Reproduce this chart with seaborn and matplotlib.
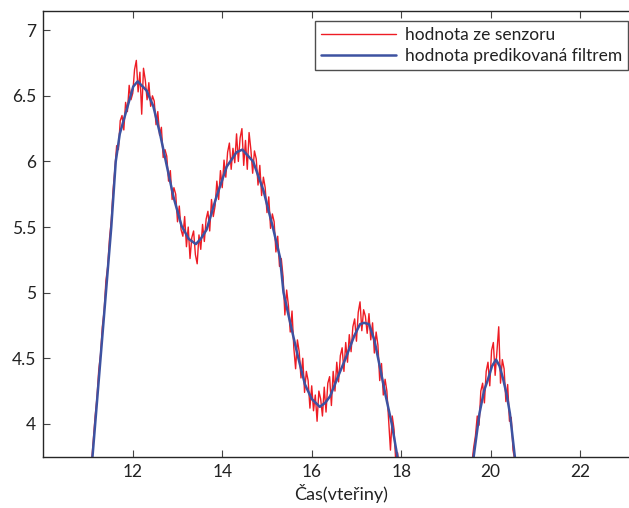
import numpy as np
import pandas as pd
import matplotlib
matplotlib.use("Agg")
import matplotlib.pyplot as plt
import seaborn as sns

# filtered (predicted) value
filter_t = [10.95, 11.10, 11.40, 11.52, 11.62, 11.71, 11.86, 12.01, 12.11, 12.31,
            12.46, 12.61, 12.74, 12.91, 13.09, 13.25, 13.41, 13.52, 13.65, 13.87,
            14.10, 14.32, 14.45, 14.69, 14.92, 15.13, 15.29, 15.37, 15.50, 15.68,
            15.85, 16.00, 16.18, 16.30, 16.41, 16.60, 16.77, 16.95, 17.08, 17.17,
            17.28, 17.40, 17.52, 17.65, 17.79, 17.90, 18.05, 19.50, 19.62, 19.75,
            19.85, 19.94, 20.03, 20.12, 20.20, 20.28, 20.36, 20.43, 20.54, 20.65]
filter_v = [3.15, 3.75, 5.00, 5.50, 6.00, 6.21, 6.39, 6.57, 6.61, 6.54,
            6.42, 6.21, 6.00, 5.73, 5.51, 5.41, 5.37, 5.41, 5.48, 5.73,
            5.96, 6.07, 6.09, 6.00, 5.78, 5.50, 5.27, 5.00, 4.80, 4.53,
            4.30, 4.19, 4.13, 4.16, 4.21, 4.37, 4.51, 4.67, 4.76, 4.77,
            4.76, 4.64, 4.44, 4.22, 4.00, 3.78, 3.45, 3.45, 3.75, 4.08,
            4.25, 4.34, 4.44, 4.49, 4.44, 4.34, 4.22, 4.08, 3.75, 3.45]

# raw sensor samples, two visible stretches, sampled every 0.04 s
sensor_dt = 0.04
sensor1_start = 11.08
sensor1_v = [3.71, 3.88, 4.06, 4.20, 4.41, 4.53, 4.74, 4.86, 5.09, 5.20,
             5.41, 5.55, 5.78, 5.94, 6.12, 6.09, 6.31, 6.35, 6.24, 6.45,
             6.38, 6.58, 6.47, 6.52, 6.70, 6.77, 6.53, 6.68, 6.36, 6.71,
             6.62, 6.47, 6.60, 6.42, 6.50, 6.46, 6.28, 6.38, 6.20, 6.26,
             6.03, 6.09, 6.04, 5.85, 5.93, 5.71, 5.80, 5.75, 5.54, 5.66,
             5.48, 5.43, 5.58, 5.35, 5.50, 5.26, 5.42, 5.47, 5.29, 5.22,
             5.44, 5.33, 5.52, 5.39, 5.56, 5.62, 5.47, 5.71, 5.58, 5.66,
             5.85, 5.71, 5.93, 5.80, 6.01, 5.88, 6.07, 6.14, 5.94, 6.10,
             5.99, 6.21, 6.00, 6.18, 6.25, 5.97, 6.16, 5.94, 6.22, 6.09,
             5.91, 6.08, 6.02, 5.82, 5.97, 5.74, 5.88, 5.80, 5.61, 5.73,
             5.49, 5.60, 5.54, 5.31, 5.43, 5.20, 5.26, 5.12, 4.83, 5.02,
             4.90, 4.70, 4.86, 4.58, 4.42, 4.64, 4.55, 4.35, 4.50, 4.24,
             4.40, 4.33, 4.12, 4.29, 4.10, 4.22, 4.02, 4.25, 4.19, 4.06,
             4.28, 4.09, 4.31, 4.36, 4.14, 4.40, 4.25, 4.47, 4.32, 4.52,
             4.58, 4.40, 4.62, 4.47, 4.68, 4.55, 4.74, 4.80, 4.63, 4.85,
             4.93, 4.71, 4.87, 4.82, 4.69, 4.84, 4.64, 4.77, 4.54, 4.70,
             4.60, 4.33, 4.46, 4.22, 4.34, 4.25, 4.02, 3.80, 4.06, 3.96,
             3.70, 3.78, 3.62]
sensor2_start = 19.58
sensor2_v = [3.70, 3.82, 3.91, 4.06, 3.99, 4.25, 4.31, 4.16, 4.40, 4.47,
             4.29, 4.56, 4.62, 4.37, 4.55, 4.74, 4.31, 4.49, 4.42, 4.17,
             4.30, 4.02, 4.05, 3.80, 3.72, 3.60]

x_ticks = [12, 14, 16, 18, 20, 22]
y_ticks = [4, 4.5, 5, 5.5, 6, 6.5, 7]
y_labels = ["4", "4.5", "5", "5.5", "6", "6.5", "7"]

sns.set_style("ticks", {"xtick.direction": "in", "ytick.direction": "in",
                        "axes.edgecolor": "#262626"})
plt.rcParams["font.family"] = ["Lato", "DejaVu Sans"]

seg1 = pd.DataFrame({"t": sensor1_start + sensor_dt * np.arange(len(sensor1_v)),
                     "v": sensor1_v})
seg2 = pd.DataFrame({"t": sensor2_start + sensor_dt * np.arange(len(sensor2_v)),
                     "v": sensor2_v})
filt = pd.DataFrame({"t": filter_t, "v": filter_v})

fig = plt.figure(figsize=(6.29, 5.08), dpi=100)
ax = fig.add_axes([0.0688, 0.101, 0.946, 0.877])

red = "#ee1c24"
sns.lineplot(data=seg1, x="t", y="v", sort=False, color=red, linewidth=1.0,
             label="hodnota ze senzoru", ax=ax)
sns.lineplot(data=seg2, x="t", y="v", sort=False, color=red, linewidth=1.0,
             legend=False, ax=ax)
sns.lineplot(data=filt, x="t", y="v", sort=False, color="#3d52a1",
             linewidth=1.8, label="hodnota predikovaná filtrem", ax=ax)

ax.set_xlim(10, 23.3)
ax.set_ylim(3.75, 7.145)
ax.set_xticks(x_ticks)
ax.set_yticks(y_ticks)
ax.set_yticklabels(y_labels)
ax.tick_params(axis="both", labelsize=12.5, length=5, width=0.8, color="#444444",
               labelcolor="#222222", top=True, right=True, pad=5)
ax.set_xlabel("Čas(vteřiny)", fontsize=13, color="#222222", labelpad=3)
ax.set_ylabel("")
for s in ax.spines.values():
    s.set_linewidth(1.0)

leg = ax.legend(loc="upper right", bbox_to_anchor=(628 / 629, 1 - 20.7 / 508),
                bbox_transform=fig.transFigure, borderaxespad=0, fontsize=12.5,
                frameon=True, fancybox=False, edgecolor="#222222",
                handlelength=4.3, borderpad=0.35, labelspacing=0.3,
                handletextpad=0.5)
leg.get_frame().set_linewidth(1.0)
for txt in leg.get_texts():
    txt.set_color("#222222")

fig.savefig("out.png", dpi=100)
